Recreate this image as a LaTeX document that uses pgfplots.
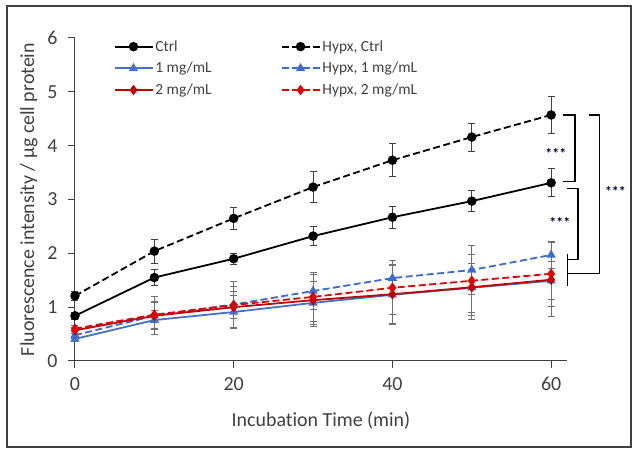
\documentclass[border=0pt]{standalone}
\usepackage{pgfplots}
\pgfplotsset{compat=1.18}
\usepackage{fontspec}
\setmainfont{Carlito}[Ligatures=NoCommon]
\definecolor{myblue}{HTML}{4472C4}
\definecolor{myblue2}{HTML}{3A6BD0}
\definecolor{myred}{HTML}{C00000}
\definecolor{myred2}{HTML}{E00000}
\definecolor{txt}{HTML}{404040}
\definecolor{errgray}{HTML}{707070}
\begin{document}
\begin{tikzpicture}
\begin{axis}[
  width=492bp, height=323bp, scale only axis,
  xmin=0, xmax=62, ymin=0, ymax=6,
  axis lines*=left,
  axis line style={draw=txt, line width=1bp},
  clip=false,
  xtick={0,20,40,60}, ytick={0,1,2,3,4,5,6},
  tick align=outside, tick style={draw=txt, line width=1bp},
  major tick length=7bp,
  ticklabel style={font=\fontsize{20}{24}\selectfont, text=txt},
  xticklabel style={yshift=-6bp},
  yticklabel style={xshift=-7bp},
  /pgf/number format/assume math mode=true,
  xlabel={Incubation Time (min)},
  ylabel={Fluorescence intensity / µg cell protein},
  label style={font=\fontsize{20}{24}\selectfont, text=txt},
  xlabel style={yshift=-14bp},
  ylabel style={yshift=3bp},
  legend columns=2,
  legend cell align=left,
  legend style={at={(0.072,1.005)}, anchor=north west, draw=none, fill=none,
    font=\fontsize{15.5}{18}\selectfont, text=txt, row sep=5.5bp,
    /tikz/every even column/.append style={column sep=67bp}},
  legend image code/.code={\draw[#1, mark=none] (0bp,0bp) -- (38bp,0bp);
     \draw[#1, only marks] plot coordinates {(19bp,0bp)};},
  error bars/y dir=both, error bars/y explicit,
]
% Ctrl
\addplot[black, line width=1.8bp, mark=*, mark size=3.8bp,
  error bars/error bar style={line width=1bp, draw=txt},
  error bars/error mark options={rotate=90, mark size=3.5bp, line width=1bp, draw=txt}]
  table[x=x, y=y, y error=e] {
x y e
0 0.84 0.06
10 1.55 0.15
20 1.90 0.10
30 2.32 0.17
40 2.67 0.20
50 2.97 0.20
60 3.31 0.26
};
\addlegendentry{Ctrl}
% Hypx Ctrl
\addplot[black, line width=1.8bp, dash pattern=on 7bp off 3.5bp, mark=*, mark size=3.8bp, mark options={solid},
  error bars/error bar style={line width=1bp, draw=txt, solid},
  error bars/error mark options={rotate=90, mark size=3.5bp, line width=1bp, draw=txt, solid}]
  table[x=x, y=y, y error=e] {
x y e
0 1.21 0.08
10 2.04 0.22
20 2.65 0.20
30 3.23 0.29
40 3.73 0.31
50 4.16 0.26
60 4.57 0.35
};
\addlegendentry{Hypx, Ctrl}
% 1 mg/mL
\addplot[myblue, line width=1.8bp, mark=triangle*, mark size=3.6bp,
  error bars/error bar style={line width=1bp, draw=errgray},
  error bars/error mark options={rotate=90, mark size=3.5bp, line width=1bp, draw=errgray}]
  table[x=x, y=y, y error=e] {
x y e
0 0.41 0.05
10 0.76 0.18
20 0.91 0.30
30 1.08 0.40
40 1.23 0.55
50 1.36 0.45
60 1.49 0.35
};
\addlegendentry{1 mg/mL}
% Hypx 1 mg/mL
\addplot[myblue2, line width=1.8bp, dash pattern=on 7bp off 3.5bp, mark=triangle*, mark size=3.6bp, mark options={solid},
  error bars/error bar style={line width=1bp, draw=errgray, solid},
  error bars/error mark options={rotate=90, mark size=3.5bp, line width=1bp, draw=errgray, solid}]
  table[x=x, y=y, y error=e] {
x y e
0 0.48 0.06
10 0.84 0.35
20 1.05 0.42
30 1.30 0.35
40 1.54 0.32
50 1.69 0.45
60 1.97 0.25
};
\addlegendentry{Hypx, 1 mg/mL}
% 2 mg/mL
\addplot[myred, line width=1.8bp, mark=diamond*, mark size=3.8bp,
  error bars/error bar style={line width=1bp, draw=errgray},
  error bars/error mark options={rotate=90, mark size=3.5bp, line width=1bp, draw=errgray}]
  table[x=x, y=y, y error=e] {
x y e
0 0.57 0.05
10 0.84 0.25
20 1.00 0.38
30 1.13 0.48
40 1.24 0.55
50 1.37 0.60
60 1.51 0.69
};
\addlegendentry{2 mg/mL}
% Hypx 2 mg/mL
\addplot[myred2, line width=1.8bp, dash pattern=on 7bp off 3.5bp, mark=diamond*, mark size=3.8bp, mark options={solid},
  error bars/error bar style={line width=1bp, draw=errgray, solid},
  error bars/error mark options={rotate=90, mark size=3.5bp, line width=1bp, draw=errgray, solid}]
  table[x=x, y=y, y error=e] {
x y e
0 0.60 0.06
10 0.86 0.25
20 1.04 0.25
30 1.19 0.45
40 1.36 0.50
50 1.49 0.65
60 1.62 0.60
};
\addlegendentry{Hypx, 2 mg/mL}
% brackets
\draw[black, line width=1.3bp] (axis cs:61.5,4.57) -- (axis cs:63.0,4.57) -- (axis cs:63.0,3.33) -- (axis cs:61.5,3.33);
\draw[black, line width=1.3bp] (axis cs:62.0,3.21) -- (axis cs:63.4,3.21) -- (axis cs:63.4,1.89) -- (axis cs:62.1,1.89);
\draw[black, line width=1.3bp] (axis cs:64.8,4.57) -- (axis cs:66.05,4.57) -- (axis cs:66.05,1.63) -- (axis cs:62.1,1.63);
\draw[black, line width=1.3bp] (axis cs:62.1,1.99) -- (axis cs:62.1,1.39);
\node[font=\fontsize{14}{16}\selectfont\bfseries, text=black!75!blue] at (axis cs:60.6,3.86) {***};
\node[font=\fontsize{14}{16}\selectfont\bfseries, text=black!75!blue] at (axis cs:61.1,2.58) {***};
\node[font=\fontsize{14}{16}\selectfont\bfseries, text=black!75!blue] at (axis cs:68.1,3.14) {***};
% frame
\draw[draw=txt, line width=1.2bp] (rel axis cs:-0.138,1.099) rectangle (rel axis cs:1.130,-0.266);
\path (rel axis cs:-0.1524,1.1176) rectangle (rel axis cs:1.1341,-0.2724);
\end{axis}
\end{tikzpicture}
\end{document}
